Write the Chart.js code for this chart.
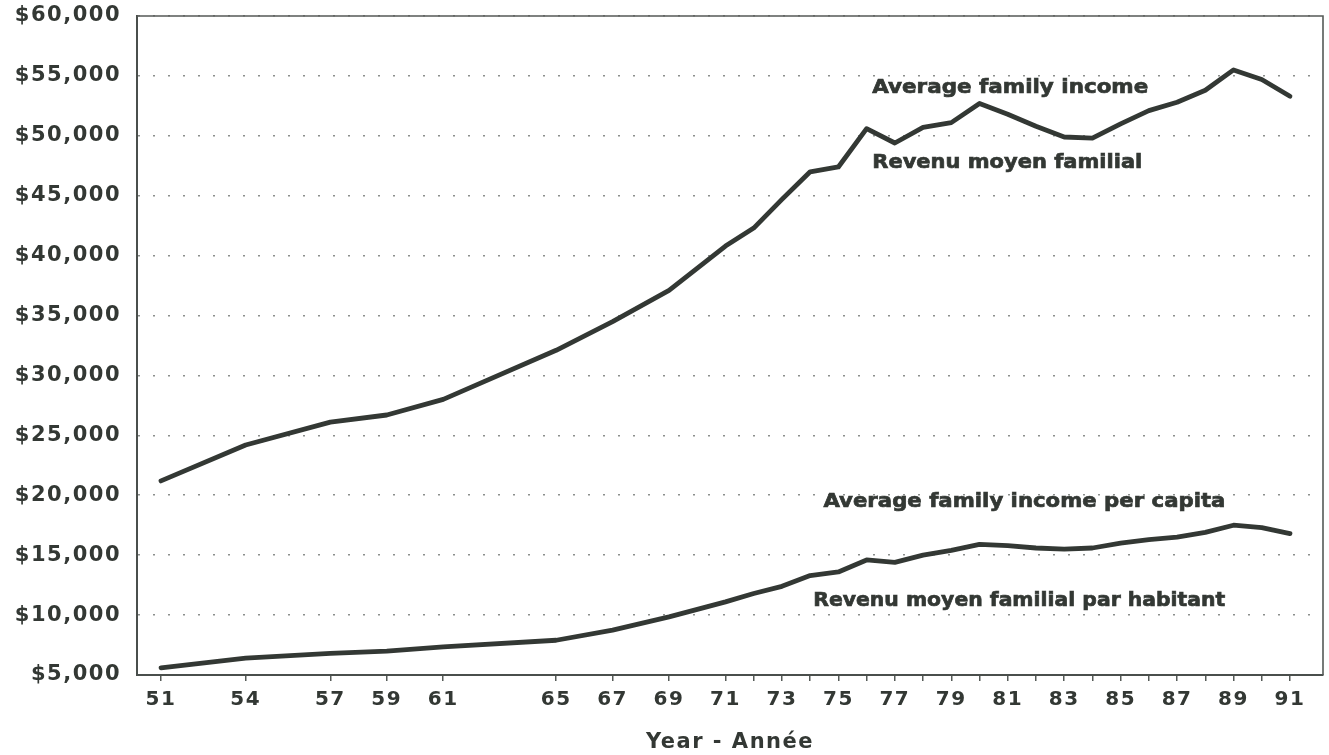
<!DOCTYPE html>
<html>
<head>
<meta charset="utf-8">
<script src="https://cdn.jsdelivr.net/npm/chart.js@4.4.1/dist/chart.umd.min.js"></script>
<style>
  html, body { margin: 0; padding: 0; background: #ffffff; }
  #wrap { width: 1329px; height: 755px; position: relative; }
</style>
</head>
<body>
<div id="wrap"><canvas id="c" width="1329" height="755"></canvas></div>
<script>
// ---- data ----
const years = [51, 54, 57, 59, 61, 65, 67, 69, 71, 72, 73, 74, 75, 76, 77, 78, 79, 80, 81, 82, 83, 84, 85, 86, 87, 88, 89, 90, 91];
const familyIncome = [21200, 24200, 26100, 26700, 28000, 32100, 34500, 37100, 40800, 42300, 44700, 47000, 47400, 50600, 49400, 50700, 51100, 52700, 51800, 50800, 49900, 49800, 51000, 52100, 52800, 53800, 55500, 54700, 53300];
const perCapita = [5600, 6400, 6800, 7000, 7350, 7900, 8750, 9850, 11100, 11800, 12400, 13300, 13600, 14600, 14400, 15000, 15400, 15900, 15800, 15600, 15500, 15600, 16000, 16300, 16500, 16900, 17500, 17300, 16800];
const xTickLabels = ['51', '54', '57', '59', '61', '65', '67', '69', '71', '73', '75', '77', '79', '81', '83', '85', '87', '89', '91'];
const yTicks = [5000, 10000, 15000, 20000, 25000, 30000, 35000, 40000, 45000, 50000, 55000, 60000];
const seriesLabels = ['Average family income', 'Average family income per capita'];
const annotationTexts = ['Average family income', 'Revenu moyen familial', 'Average family income per capita', 'Revenu moyen familial par habitant'];
const xTitle = 'Year - Année';

const INK = '#333834';
const FONT = '"DejaVu Sans", "Liberation Sans", sans-serif';

const toPoints = (vals) => years.map((y, i) => ({ x: y, y: vals[i] }));

// annotation placement (in axis units) and target widths
const annotationPlacement = [
  { x: 76.2, y: 54000, w: 276 },
  { x: 76.2, y: 47750, w: 270 },
  { x: 74.47, y: 19450, w: 402 },
  { x: 74.11, y: 11180, w: 412 }
];

const stylePlugin = {
  id: 'stylePlugin',
  beforeDraw(chart) {
    const ctx = chart.ctx;
    ctx.save();
    ctx.fillStyle = '#ffffff';
    ctx.fillRect(0, 0, chart.width, chart.height);
    ctx.restore();
    ctx.letterSpacing = '1.5px';
  },
  beforeDatasetsDraw(chart) {
    const { ctx, chartArea: a } = chart;
    ctx.save();
    ctx.strokeStyle = '#555a57';
    ctx.lineWidth = 1.6;
    ctx.beginPath();
    ctx.moveTo(a.left, a.top);
    ctx.lineTo(a.right, a.top);
    ctx.lineTo(a.right, a.bottom);
    ctx.stroke();
    ctx.restore();
  },
  afterDatasetsDraw(chart) {
    const { ctx } = chart;
    const xs = chart.scales.x, ys = chart.scales.y;
    ctx.save();
    ctx.letterSpacing = '0px';
    ctx.fillStyle = INK;
    ctx.strokeStyle = INK;
    ctx.lineWidth = 0.7;
    ctx.font = 'bold 20px ' + FONT;
    ctx.textBaseline = 'middle';
    ctx.textAlign = 'left';
    annotationTexts.forEach((t, i) => {
      const p = annotationPlacement[i];
      const px = xs.getPixelForValue(p.x);
      const py = ys.getPixelForValue(p.y);
      const m = ctx.measureText(t).width;
      const sx = p.w / m;
      ctx.save();
      ctx.translate(px, py);
      ctx.scale(sx, 1);
      ctx.fillText(t, 0, 0);
      ctx.strokeText(t, 0, 0);
      ctx.restore();
    });
    ctx.restore();
  }
};

new Chart(document.getElementById('c'), {
  type: 'line',
  data: {
    datasets: [
      { label: seriesLabels[0], data: toPoints(familyIncome), borderColor: INK, borderWidth: 4.8, pointRadius: 0, tension: 0, fill: false, borderJoinStyle: 'round', borderCapStyle: 'round' },
      { label: seriesLabels[1], data: toPoints(perCapita), borderColor: INK, borderWidth: 4.8, pointRadius: 0, tension: 0, fill: false, borderJoinStyle: 'round', borderCapStyle: 'round' }
    ]
  },
  options: {
    responsive: false,
    animation: false,
    devicePixelRatio: 1,
    layout: { padding: { left: 0, right: 6, top: 16, bottom: 0 } },
    plugins: { legend: { display: false }, tooltip: { enabled: false }, title: { display: false } },
    scales: {
      x: {
        type: 'linear',
        min: 50.15,
        max: 92.17,
        afterBuildTicks(scale) { scale.ticks = years.map(v => ({ value: v })); },
        afterFit(scale) { scale.height = 80; scale.paddingLeft = 0; scale.paddingRight = 0; },
        ticks: {
          autoSkip: false,
          maxRotation: 0,
          padding: 7,
          color: INK,
          font: { family: FONT, size: 20, weight: 'bold' },
          callback(v) { const s = String(v); return xTickLabels.includes(s) ? s : ''; }
        },
        grid: { display: true, drawOnChartArea: false, drawTicks: true, tickLength: 6, color: '#555a57', lineWidth: 1.5 },
        border: { display: true, color: '#4a4f4c', width: 2 },
        title: { display: true, text: xTitle, color: INK, font: { family: FONT, size: 21, weight: 'bold' }, padding: { top: 4, bottom: 0 } }
      },
      y: {
        type: 'linear',
        min: 5000,
        max: 60000,
        afterBuildTicks(scale) { scale.ticks = yTicks.map(v => ({ value: v })); },
        afterFit(scale) { scale.width = 137; scale.paddingTop = 0; scale.paddingBottom = 0; },
        ticks: {
          padding: 16,
          color: INK,
          font: { family: FONT, size: 21, weight: 'bold' },
          callback(v) { return '$' + Number(v).toLocaleString('en-US'); }
        },
        grid: { display: true, drawTicks: false, color: '#8c8f8d', lineWidth: 1.6 },
        border: { display: true, color: '#4a4f4c', width: 2, dash: [2, 13] }
      }
    }
  },
  plugins: [stylePlugin]
});
</script>
</body>
</html>
